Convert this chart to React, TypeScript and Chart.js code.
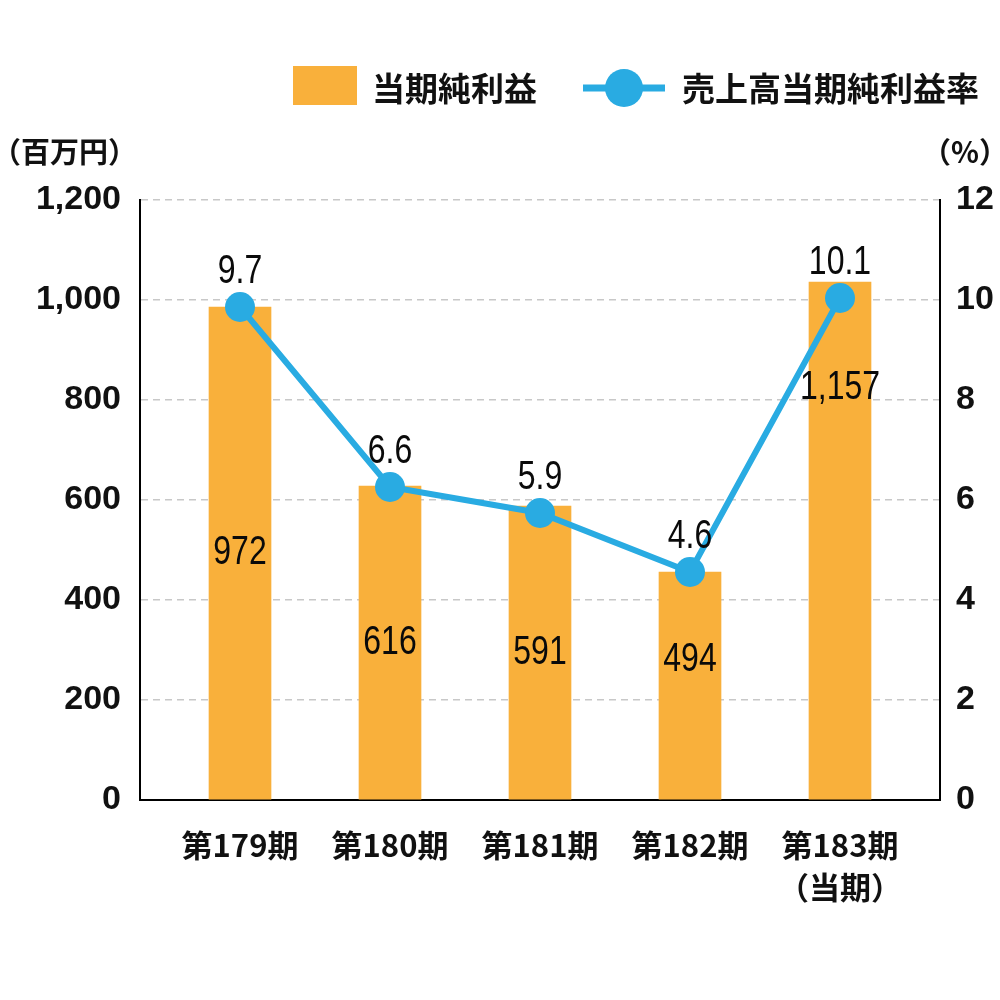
import React, { useEffect, useRef } from "react";
import { Chart, registerables } from "chart.js";

Chart.register(...registerables);

// ---- data ----
const categories: string[][] = [["第179期"], ["第180期"], ["第181期"], ["第182期"], ["第183期", "（当期）"]];
const barSeriesName = "当期純利益";
const lineSeriesName = "売上高当期純利益率";
// bar heights as drawn in the picture (百万円)
const profitValues = [986, 628, 588, 456, 1036];
// printed value labels
const profitLabels = ["972", "616", "591", "494", "1,157"];
// line points as drawn in the picture (%)
const marginValues = [9.86, 6.26, 5.74, 4.56, 10.04];
const marginLabels = ["9.7", "6.6", "5.9", "4.6", "10.1"];
const leftTicks = [0, 200, 400, 600, 800, 1000, 1200];
const rightTicks = [0, 2, 4, 6, 8, 10, 12];
const leftUnit = "（百万円）";
const rightUnit = "（%）";

const BAR_COLOR = "#F9B03B";
const LINE_COLOR = "#29ABE2";
const CJK = "'Noto Sans CJK JP', 'Noto Sans', sans-serif";
const LATIN = "'Liberation Sans', Arial, sans-serif";

const overlayPlugin = {
  id: "overlay",
  afterDatasetsDraw(chart: any) {
    const ctx = chart.ctx;
    const barMeta = chart.getDatasetMeta(0);
    const lineMeta = chart.getDatasetMeta(1);
    const nudge = [0, 0, 0, -26, -153];
    const drawNarrow = (text: string, x: number, y: number) => {
      ctx.save();
      ctx.translate(x, y);
      ctx.scale(0.8, 1);
      ctx.fillStyle = "#0a0a0a";
      ctx.font = `40px ${LATIN}`;
      ctx.textAlign = "center";
      ctx.textBaseline = "middle";
      ctx.fillText(text, 0, 0);
      ctx.restore();
    };
    barMeta.data.forEach((el: any, i: number) => {
      const mid = (el.y + el.base) / 2 + nudge[i];
      drawNarrow(profitLabels[i], el.x, mid);
    });
    lineMeta.data.forEach((el: any, i: number) => {
      drawNarrow(marginLabels[i], el.x, el.y - 35);
    });
  },
  afterDraw(chart: any) {
    const ctx = chart.ctx;
    const ds = chart.data.datasets;
    ctx.save();
    // legend: bar
    ctx.fillStyle = ds[0].backgroundColor;
    ctx.fillRect(293, 66, 64, 39);
    ctx.fillStyle = "#111";
    ctx.font = `bold 33px ${CJK}`;
    ctx.textAlign = "left";
    ctx.textBaseline = "middle";
    ctx.fillText(ds[0].label, 372, 88);
    // legend: line
    ctx.strokeStyle = ds[1].borderColor;
    ctx.lineWidth = 7;
    ctx.beginPath();
    ctx.moveTo(583, 88);
    ctx.lineTo(665, 88);
    ctx.stroke();
    ctx.fillStyle = ds[1].pointBackgroundColor;
    ctx.beginPath();
    ctx.arc(624, 88, 19, 0, Math.PI * 2);
    ctx.fill();
    ctx.fillStyle = "#111";
    ctx.fillText(ds[1].label, 682, 88);
    // unit titles
    ctx.font = `bold 29px ${CJK}`;
    ctx.textAlign = "left";
    ctx.fillText(leftUnit, -8, 152);
    ctx.textAlign = "right";
    ctx.fillText(rightUnit, 1008, 152);
    ctx.restore();
  },
};

export default function App() {
  const ref = useRef<HTMLCanvasElement | null>(null);
  useEffect(() => {
    if (!ref.current) return;
    const chart = new Chart(ref.current, {
      type: "bar",
      data: {
        datasets: [
          {
            type: "bar",
            label: barSeriesName,
            data: profitValues.map((v, i) => ({ x: i, y: v })),
            backgroundColor: BAR_COLOR,
            barThickness: 62,
            yAxisID: "y",
            order: 2,
          } as any,
          {
            type: "line",
            label: lineSeriesName,
            data: marginValues.map((v, i) => ({ x: i, y: v })),
            borderColor: LINE_COLOR,
            borderWidth: 6,
            pointRadius: 15,
            pointBackgroundColor: LINE_COLOR,
            pointBorderWidth: 0,
            yAxisID: "y1",
            order: 1,
          } as any,
        ],
      },
      options: {
        animation: false,
        responsive: false,
        layout: { padding: { top: 200, left: 0, right: 0, bottom: 0 } },
        plugins: { legend: { display: false }, tooltip: { enabled: false } },
        scales: {
          x: {
            type: "linear",
            offset: false,
            min: -0.6667,
            max: 4.6667,
            afterBuildTicks: (s: any) => {
              s.ticks = categories.map((_, i) => ({ value: i }));
            },
            afterFit: (s: any) => {
              s.height = 200;
            },
            grid: { display: false, drawTicks: false, offset: false },
            border: { display: true, color: "#000", width: 2 },
            ticks: {
              autoSkip: false,
              maxRotation: 0,
              padding: 24,
              color: "#111",
              font: { family: CJK, size: 31, weight: "bold", lineHeight: 1.35 },
              callback: (v: any) => categories[v] ?? "",
            },
          },
          y: {
            position: "left",
            min: 0,
            max: 1200,
            afterBuildTicks: (s: any) => {
              s.ticks = leftTicks.map((v) => ({ value: v }));
            },
            afterFit: (s: any) => {
              s.width = 140;
            },
            grid: { color: "#c8c8c8", lineWidth: 1.5, drawTicks: false },
            border: { display: true, color: "#000", width: 2, dash: [7, 5] },
            ticks: {
              padding: 19,
              color: "#111",
              font: { family: LATIN, size: 34, weight: "bold" },
              callback: (v: any) => Number(v).toLocaleString("en-US"),
            },
          },
          y1: {
            position: "right",
            min: 0,
            max: 12,
            afterBuildTicks: (s: any) => {
              s.ticks = rightTicks.map((v) => ({ value: v }));
            },
            afterFit: (s: any) => {
              s.width = 60;
            },
            grid: { display: false, drawTicks: false },
            border: { display: true, color: "#000", width: 2 },
            ticks: {
              padding: 16,
              color: "#111",
              font: { family: LATIN, size: 34, weight: "bold" },
              callback: (v: any) => String(v),
            },
          },
        },
      } as any,
      plugins: [overlayPlugin],
    });
    return () => chart.destroy();
  }, []);
  return (
    <div style={{ position: "absolute", left: 0, top: 0, width: 1000, height: 1000, background: "#fff" }}>
      <canvas ref={ref} width={1000} height={1000} />
    </div>
  );
}
